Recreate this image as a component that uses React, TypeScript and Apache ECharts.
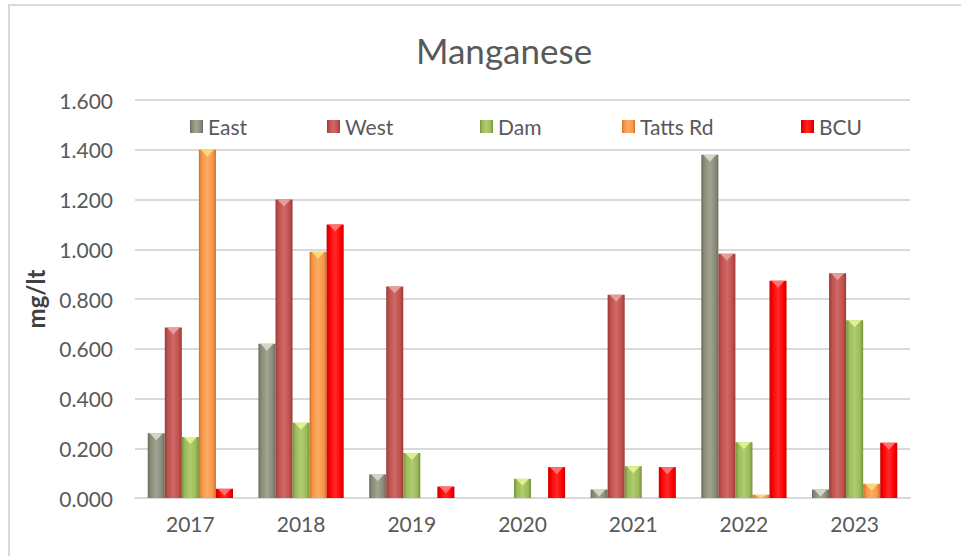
import React, { useEffect, useRef } from "react";
import * as echarts from "echarts";

const years = ["2017", "2018", "2019", "2020", "2021", "2022", "2023"];
const seriesNames = ["East", "West", "Dam", "Tatts Rd", "BCU"];
const east = [0.26, 0.62, 0.095, null, 0.034, 1.38, 0.034];
const west = [0.685, 1.2, 0.85, null, 0.817, 0.982, 0.904];
const dam = [0.245, 0.303, 0.181, 0.077, 0.128, 0.224, 0.715];
const tatts = [1.4, 0.99, null, null, null, 0.013, 0.057];
const bcu = [0.037, 1.1, 0.046, 0.124, 0.124, 0.873, 0.222];
const yTicks = [0, 0.2, 0.4, 0.6, 0.8, 1.0, 1.2, 1.4, 1.6];

const values = [east, west, dam, tatts, bcu];
const palette = [
  { dark: "#6c6d5e", base: "#8a8b79", light: "#a2a391", tri: "#d4d5c4" },
  { dark: "#993b38", base: "#c0504d", light: "#cf6a67", tri: "#e59c9a" },
  { dark: "#779138", base: "#9bbb59", light: "#b0cc6f", tri: "#e2ef8e" },
  { dark: "#cc7127", base: "#f79646", light: "#fbac66", tri: "#fcd77a" },
  { dark: "#c80000", base: "#ff0000", light: "#ff2a2a", tri: "#ff7070" },
];
const legendLeft = [190, 327, 480, 622, 801];
const CAT_GAP = 0.23;

export default function App() {
  const ref = useRef<HTMLDivElement>(null);
  useEffect(() => {
    if (!ref.current) return;
    const chart = echarts.init(ref.current, null, { renderer: "svg" });
    const n = seriesNames.length;
    const barSeries = seriesNames.map((name, k) => ({
      name,
      type: "bar",
      data: values[k],
      barGap: "0%",
      barCategoryGap: CAT_GAP * 100 + "%",
      itemStyle: {
        color: {
          type: "linear",
          x: 0,
          y: 0,
          x2: 1,
          y2: 0,
          colorStops: [
            { offset: 0, color: palette[k].dark },
            { offset: 0.18, color: palette[k].base },
            { offset: 0.5, color: palette[k].light },
            { offset: 0.82, color: palette[k].base },
            { offset: 1, color: palette[k].dark },
          ],
        },
      },
      z: 2,
    }));
    const triSeries = seriesNames.map((name, k) => ({
      name: name + "-top",
      type: "custom",
      z: 3,
      silent: true,
      data: values[k].map((v, i) => [i, v]),
      renderItem: (params: any, api: any) => {
        const v = api.value(1);
        if (v === null || v === undefined || isNaN(v)) return null;
        const cat = api.value(0);
        const top = api.coord([cat, v]);
        const base = api.coord([cat, 0]);
        const catW = api.size([1, 0])[0];
        const groupW = catW * (1 - CAT_GAP);
        const bw = groupW / n;
        const x0 = top[0] - groupW / 2 + k * bw;
        const h = Math.min(7, Math.max(0, base[1] - top[1]));
        return {
          type: "polygon",
          shape: {
            points: [
              [x0 + 2, top[1]],
              [x0 + bw - 2, top[1]],
              [x0 + bw / 2, top[1] + h],
            ],
          },
          style: { fill: palette[k].tri },
        };
      },
    }));
    const legends = seriesNames.map((name, k) => ({
      data: [name],
      left: legendLeft[k] - 5,
      top: 111,
      itemWidth: 13,
      itemHeight: 13,
      icon: "rect",
      textStyle: { fontFamily: "Lato", fontSize: 21, color: "#595959" },
    }));
    chart.setOption({
      animation: false,
      backgroundColor: "#ffffff",
      textStyle: { fontFamily: "Lato" },
      title: {
        text: "Manganese",
        left: 411,
        top: 27,
        textStyle: { fontFamily: "Lato", fontSize: 35, fontWeight: "normal", color: "#595959" },
      },
      legend: legends,
      grid: { left: 135, right: 51, top: 100, bottom: 58 },
      xAxis: {
        type: "category",
        data: years,
        axisLine: { lineStyle: { color: "#d9d9d9", width: 2 } },
        axisTick: { show: false },
        axisLabel: { fontFamily: "Lato", fontSize: 21, color: "#595959", margin: 15 },
      },
      yAxis: {
        type: "value",
        min: yTicks[0],
        max: yTicks[yTicks.length - 1],
        interval: 0.2,
        name: "mg/lt",
        nameLocation: "middle",
        nameRotate: 90,
        nameGap: 88,
        nameTextStyle: { fontFamily: "Lato", fontSize: 24, fontWeight: "bold", color: "#404040" },
        axisLine: { show: false },
        axisTick: { show: false },
        splitLine: { lineStyle: { color: "#d9d9d9", width: 2 } },
        axisLabel: {
          fontFamily: "Lato",
          fontSize: 21,
          color: "#595959",
          margin: 22,
          formatter: (v: number) => v.toFixed(3),
        },
      },
      graphic: [
        {
          type: "rect",
          shape: { x: 9, y: 5, width: 1000, height: 600 },
          style: { fill: "none", stroke: "#d9d9d9", lineWidth: 2 },
          silent: true,
          z: -1,
        },
      ],
      series: [...barSeries, ...triSeries],
    });
    return () => chart.dispose();
  }, []);
  return (
    <div
      ref={ref}
      style={{ position: "absolute", left: 0, top: 0, width: 961, height: 556 }}
    />
  );
}
